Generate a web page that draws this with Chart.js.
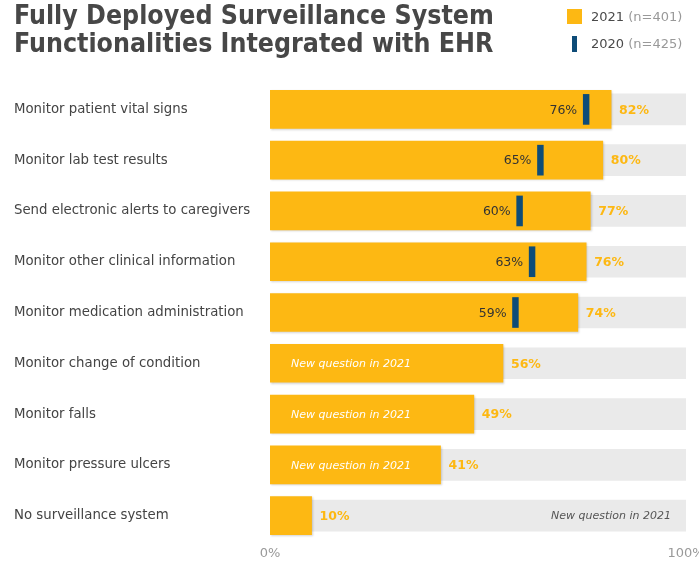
<!DOCTYPE html>
<html>
<head>
<meta charset="utf-8">
<script src="https://cdn.jsdelivr.net/npm/chart.js@4.4.1/dist/chart.umd.min.js"></script>
<style>
  html, body { margin: 0; padding: 0; background: #fff; }
  #wrap { position: relative; width: 699px; height: 561px; overflow: hidden; }
  #chart { position: absolute; left: 0; top: 0; }
  .title {
    position: absolute; left: 14px; top: 1px;
    font-family: "DejaVu Sans Condensed", "DejaVu Sans", sans-serif;
    font-weight: bold; font-size: 26.5px; line-height: 28px; color: #474747;
  }
  .legend { position: absolute; left: 567px; font-family: "DejaVu Sans", sans-serif; font-size: 13px; color: #4a4a4a; }
  .legend .n { color: #999; }
  .swatch { position: absolute; }
</style>
</head>
<body>
<div id="wrap">
  <canvas id="chart" width="699" height="561"></canvas>
  <div class="title">Fully Deployed Surveillance System<br>Functionalities Integrated with EHR</div>
  <div class="swatch" style="left:567px;top:9px;width:15px;height:15px;background:#FDB813"></div>
  <div class="legend" style="left:591px;top:9px">2021 <span class="n">(n=401)</span></div>
  <div class="swatch" style="left:572px;top:36px;width:5px;height:16px;background:#0E4C78"></div>
  <div class="legend" style="left:591px;top:36px">2020 <span class="n">(n=425)</span></div>
</div>
<script>
const categories = [
  "Monitor patient vital signs",
  "Monitor lab test results",
  "Send electronic alerts to caregivers",
  "Monitor other clinical information",
  "Monitor medication administration",
  "Monitor change of condition",
  "Monitor falls",
  "Monitor pressure ulcers",
  "No surveillance system"
];
const values2021 = [82, 80, 77, 76, 74, 56, 49, 41, 10];
const values2020 = [76, 65, 60, 63, 59, null, null, null, null];
const newQuestion = [false, false, false, false, false, true, true, true, true];

const ORANGE = "#FDB813";
const NAVY = "#0E4C78";

// thin marker for the 2020 value
const markerHalf = 0.7;
const markers = values2020.map(v => v == null ? null : [v - markerHalf, v + markerHalf]);

const labelPlugin = {
  id: "barLabels",
  beforeDatasetDraw(chart, args) {
    if (args.index === 1) {
      const ctx = chart.ctx;
      ctx.save();
      ctx.shadowColor = "rgba(0,0,0,0.18)";
      ctx.shadowBlur = 2;
      ctx.shadowOffsetX = 1;
      ctx.shadowOffsetY = 1;
    }
  },
  afterDatasetDraw(chart, args) {
    if (args.index === 1) chart.ctx.restore();
  },
  afterDatasetsDraw(chart) {
    const ctx = chart.ctx;
    const bars = chart.getDatasetMeta(1).data;
    const marks = chart.getDatasetMeta(2).data;
    const area = chart.chartArea;
    ctx.save();
    ctx.textBaseline = "middle";
    bars.forEach((bar, i) => {
      // 2021 value right of the bar
      ctx.font = "bold 12.5px 'DejaVu Sans', sans-serif";
      ctx.fillStyle = ORANGE;
      ctx.textAlign = "left";
      ctx.fillText(values2021[i] + "%", bar.x + 8, bar.y + 1);

      if (values2020[i] != null) {
        const m = marks[i];
        ctx.font = "12.5px 'DejaVu Sans', sans-serif";
        ctx.fillStyle = "#333";
        ctx.textAlign = "right";
        ctx.fillText(values2020[i] + "%", Math.min(m.x, m.base) - 6, bar.y + 1);
      } else if (newQuestion[i]) {
        ctx.font = "italic 11px 'DejaVu Sans', sans-serif";
        if (bar.x - area.left > 150) {
          ctx.fillStyle = "#fff";
          ctx.textAlign = "left";
          ctx.fillText("New question in 2021", area.left + 21, bar.y + 1);
        } else {
          ctx.fillStyle = "#555";
          ctx.textAlign = "right";
          ctx.fillText("New question in 2021", area.right - 15, bar.y + 1);
        }
      }
    });
    ctx.restore();
  }
};

new Chart(document.getElementById("chart"), {
  type: "bar",
  data: {
    labels: categories,
    datasets: [
      {
        label: "bg",
        data: categories.map(() => 100),
        backgroundColor: "#EAEAEA",
        barThickness: 31,
        grouped: false,
        order: 3
      },
      {
        label: "2021",
        data: values2021,
        backgroundColor: ORANGE,
        barThickness: 38,
        grouped: false,
        order: 2
      },
      {
        label: "2020",
        data: markers,
        backgroundColor: NAVY,
        barThickness: 30,
        grouped: false,
        order: 1
      }
    ]
  },
  options: {
    indexAxis: "y",
    responsive: false,
    animation: false,
    layout: { padding: { left: 14, right: 13, top: 84, bottom: 0 } },
    plugins: {
      legend: { display: false },
      tooltip: { enabled: false }
    },
    scales: {
      x: {
        min: 0,
        max: 100,
        grid: { display: false, drawTicks: false },
        border: { display: false },
        ticks: {
          stepSize: 100,
          padding: 5,
          color: "#999",
          font: { family: "DejaVu Sans", size: 13 },
          callback: v => v + "%"
        },
        afterFit(scale) {
          scale.paddingLeft = 0;
          scale.paddingRight = 0;
          scale.height = 20;
        }
      },
      y: {
        grid: { display: false, drawTicks: false },
        border: { display: false },
        ticks: {
          crossAlign: "far",
          color: "#444",
          font: { family: "DejaVu Sans", size: 13.3 }
        },
        afterFit(scale) {
          scale.width = 256;
        }
      }
    }
  },
  plugins: [labelPlugin]
});
</script>
</body>
</html>
